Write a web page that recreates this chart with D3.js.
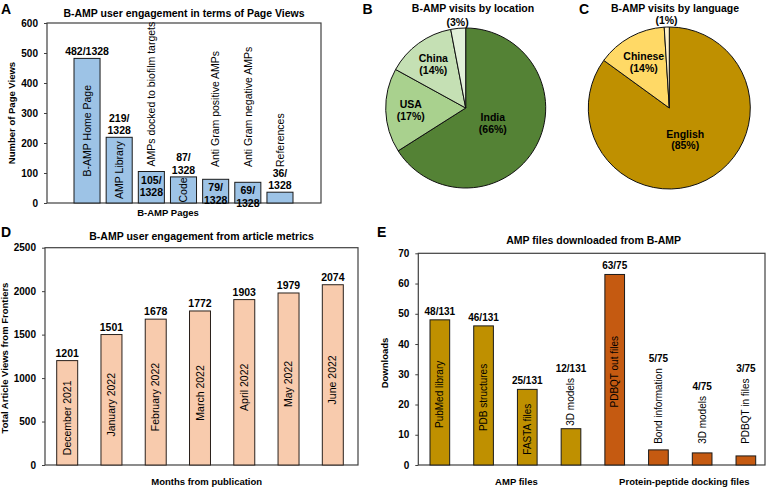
<!DOCTYPE html>
<html><head><meta charset="utf-8">
<script src="https://cdn.jsdelivr.net/npm/d3@7"></script>
<style>
body{margin:0;background:#fff;}
svg{display:block;font-family:"Liberation Sans",Arial,sans-serif;}
</style></head>
<body>
<svg id="c" width="768" height="487"></svg>
<script>
// ---------- DATA ----------
const pagesA = ["B-AMP Home Page","AMP Library","AMPs docked to biofilm targets","Code","Anti Gram positive AMPs","Anti Gram negative AMPs","References"];
const viewsA = [482,219,105,87,79,69,36];
const valueLabelsA = ["482/1328","219/\n1328","105/\n1328","87/\n1328","79/\n1328","69/\n1328","36/\n1328"];
const ticksA = [0,100,200,300,400,500,600];

const locations = ["India","USA","China",""];
const locationPct = [66,17,14,3];

const languages = ["English","Chinese",""];
const languagePct = [85,14,1];

const months = ["December 2021","January 2022","February 2022","March 2022","April 2022","May 2022","June 2022"];
const viewsD = [1201,1501,1678,1772,1903,1979,2074];
const ticksD = [0,500,1000,1500,2000,2500];

const filesE = ["PubMed library","PDB structures","FASTA files","3D models","PDBQT out files","Bond information","3D models ","PDBQT in files"];
const downloadsE = [48,46,25,12,63,5,4,3];
const totalsE = [131,131,131,131,75,75,75,75];
const groupsE = ["AMP files","AMP files","AMP files","AMP files","Protein-peptide docking files","Protein-peptide docking files","Protein-peptide docking files","Protein-peptide docking files"];
const ticksE = [0,10,20,30,40,50,60,70];

// ---------- HELPERS ----------
const svg = d3.select("#c");
const FRAME = "#404040";
function frame(x0,y0,x1,y1){
  svg.append("rect").attr("x",x0).attr("y",y0).attr("width",x1-x0).attr("height",y1-y0)
    .attr("fill","none").attr("stroke",FRAME).attr("stroke-width",1.2);
}
function yAxis(scale,x,ticks){
  const g = svg.append("g").attr("transform",`translate(${x},0)`)
    .call(d3.axisLeft(scale).tickValues(ticks).tickFormat(d3.format("d")).tickSizeInner(3).tickSizeOuter(0).tickPadding(6));
  g.select(".domain").remove();
  g.selectAll(".tick line").attr("stroke",FRAME);
  g.selectAll("text").attr("font-size",10).attr("font-weight","bold").attr("fill","#000")
    .attr("font-family","Liberation Sans,Arial,sans-serif");
}
function txt(x,y,s,o={}){
  const t = svg.append("text").attr("x",x).attr("y",y).text(s)
    .attr("font-size",o.size||10.5).attr("font-weight",o.bold===false?"normal":"bold")
    .attr("text-anchor",o.anchor||"middle").attr("fill","#000");
  return t;
}
function rtxt(x,y,s,anchor,size,bold){
  return svg.append("text").attr("transform",`translate(${x},${y}) rotate(-90)`)
    .attr("text-anchor",anchor).attr("dy","0.35em").attr("font-size",size)
    .attr("font-weight",bold?"bold":"normal").attr("fill","#000").text(s);
}
function multiline(x,yLast,lines,size,lh){
  lines.forEach((l,i)=>txt(x,yLast-(lines.length-1-i)*lh,l,{size:size}));
}

// ---------- PANEL A ----------
{
  const y = d3.scaleLinear().domain([0,600]).range([203,23]);
  const x = d3.scaleBand().domain(pagesA).range([74,293]).paddingInner(0.19).paddingOuter(0);
  frame(47,23,321,203);
  yAxis(y,47,ticksA);
  svg.append("g").selectAll("rect").data(pagesA).join("rect")
    .attr("x",d=>x(d)).attr("width",x.bandwidth())
    .attr("y",(d,i)=>y(viewsA[i])).attr("height",(d,i)=>y(0)-y(viewsA[i]))
    .attr("fill","#9DC3E6").attr("stroke","#1a1a1a").attr("stroke-width",1);
  const inside = [true,true,false,true,false,false,false];
  const valInside = [false,false,true,false,true,true,false];
  pagesA.forEach((p,i)=>{
    const cx = x(p)+x.bandwidth()/2, top = y(viewsA[i]);
    const lines = valueLabelsA[i].split("\n");
    if(valInside[i]){
      lines.forEach((l,k)=>txt(cx,top+12+k*12.5,l,{size:10.5}));
    } else {
      multiline(cx,top-3,lines,10.5,12.5);
    }
    if(inside[i]) rtxt(cx,(top+y(0))/2,p,"middle",10.5,false);
    else rtxt(cx,Math.min(top-5,y(120)),p,"start",10.5,false);
  });
  txt(184,16.8,"B-AMP user engagement in terms of Page Views",{size:10.5});
  txt(168,215.5,"B-AMP Pages",{size:9.5});
  svg.append("text").attr("transform","translate(15,113) rotate(-90)").attr("text-anchor","middle")
    .attr("font-size",9.5).attr("font-weight","bold").text("Number of Page Views");
  txt(1,14,"A",{size:14,anchor:"start"});
}

// ---------- PIE helper ----------
function pie(cx,cy,r,names,vals,colors,labelR,title,titleX,letter,letterX){
  const arcs = d3.pie().sort(null).value(d=>d)(vals);
  const arc = d3.arc().innerRadius(0).outerRadius(r);
  const g = svg.append("g").attr("transform",`translate(${cx},${cy})`);
  g.selectAll("path").data(arcs).join("path").attr("d",arc)
    .attr("fill",(d,i)=>colors[i]).attr("stroke","#111").attr("stroke-width",1);
  arcs.forEach((a,i)=>{
    const m = (a.startAngle+a.endAngle)/2;
    const lx = Math.sin(m)*labelR[i], ly = -Math.cos(m)*labelR[i];
    const pct = "("+vals[i]+"%)";
    if(names[i]){
      txt(cx+lx,cy+ly-1.5,names[i],{size:10.5});
      txt(cx+lx,cy+ly+10,pct,{size:10.5});
    } else {
      txt(cx+lx,cy+ly+4,pct,{size:10.5});
    }
  });
  txt(titleX,11.5,title,{size:10.5});
  txt(letterX,14,letter,{size:14,anchor:"start"});
}
pie(465.7,108,80,locations,locationPct,["#548235","#A9D18E","#C5E0B4","#E2F0D9"],[31,55,55,86],
  "B-AMP visits by location",473,"B",362.5);
pie(669.3,108,81,languages,languagePct,["#BF9000","#FFD966","#FFF2CC"],[35,53,88],
  "B-AMP visits by language",675,"C",579);

// ---------- PANEL D ----------
{
  const y = d3.scaleLinear().domain([0,2500]).range([465,247.7]);
  const x = d3.scaleBand().domain(months).range([56.7,343.3]).paddingInner(0.526).paddingOuter(0);
  frame(45,247.7,358,465);
  yAxis(y,45,ticksD);
  svg.append("g").selectAll("rect").data(months).join("rect")
    .attr("x",d=>x(d)).attr("width",x.bandwidth())
    .attr("y",(d,i)=>y(viewsD[i])).attr("height",(d,i)=>y(0)-y(viewsD[i]))
    .attr("fill","#F8CBAD").attr("stroke","#2a211c").attr("stroke-width",1);
  months.forEach((m,i)=>{
    const cx = x(m)+x.bandwidth()/2, top = y(viewsD[i]);
    txt(cx,top-4,String(viewsD[i]),{size:10.5});
    rtxt(cx,(top+y(0))/2+5,m,"middle",10.5,false);
  });
  txt(201.5,239.8,"B-AMP user engagement from article metrics",{size:10.5});
  txt(206.7,485,"Months from publication",{size:9.5});
  svg.append("text").attr("transform","translate(7.5,358) rotate(-90)").attr("text-anchor","middle")
    .attr("font-size",9.5).attr("font-weight","bold").text("Total Article Views from Frontiers");
  txt(1,237,"D",{size:14,anchor:"start"});
}

// ---------- PANEL E ----------
{
  const y = d3.scaleLinear().domain([0,70]).range([465,253.3]);
  const x = d3.scaleBand().domain(filesE).range([430,755.7]).paddingInner(0.55).paddingOuter(0);
  frame(418.3,253.3,765,465);
  yAxis(y,418.3,ticksE);
  const colorE = d3.scaleOrdinal().domain(["AMP files","Protein-peptide docking files"]).range(["#BF9000","#C55A11"]);
  svg.append("g").selectAll("rect").data(filesE).join("rect")
    .attr("x",d=>x(d)).attr("width",x.bandwidth())
    .attr("y",(d,i)=>y(downloadsE[i])).attr("height",(d,i)=>y(0)-y(downloadsE[i]))
    .attr("fill",(d,i)=>colorE(groupsE[i])).attr("stroke","#1a1a1a").attr("stroke-width",1);
  const inside = [true,true,true,false,true,false,false,false];
  const fs = 10;
  filesE.forEach((f,i)=>{
    const cx = x(f)+x.bandwidth()/2, top = y(downloadsE[i]);
    const lbl = downloadsE[i]+"/"+totalsE[i];
    if(inside[i]){
      rtxt(cx,(top+y(0))/2+2,f.trim(),"middle",fs,false);
      txt(cx,top-5,lbl,{size:10});
    } else {
      const base = Math.min(top,y(6))-3;
      const t = rtxt(cx,base,f.trim(),"start",fs,false);
      const len = t.node().getComputedTextLength();
      txt(cx,base-len-6,lbl,{size:10});
    }
  });
  const groups = Array.from(new Set(groupsE));
  const shift = [11,4];
  groups.forEach((g,k)=>{
    const cs = filesE.filter((f,i)=>groupsE[i]===g).map(f=>x(f)+x.bandwidth()/2);
    txt(d3.mean(cs)+shift[k],484.5,g,{size:9.5});
  });
  txt(593.7,244.2,"AMP files downloaded from B-AMP",{size:10.5});
  svg.append("text").attr("transform","translate(388,363) rotate(-90)").attr("text-anchor","middle")
    .attr("font-size",9.5).attr("font-weight","bold").text("Downloads");
  txt(377,237,"E",{size:14,anchor:"start"});
}
</script>
</body></html>
